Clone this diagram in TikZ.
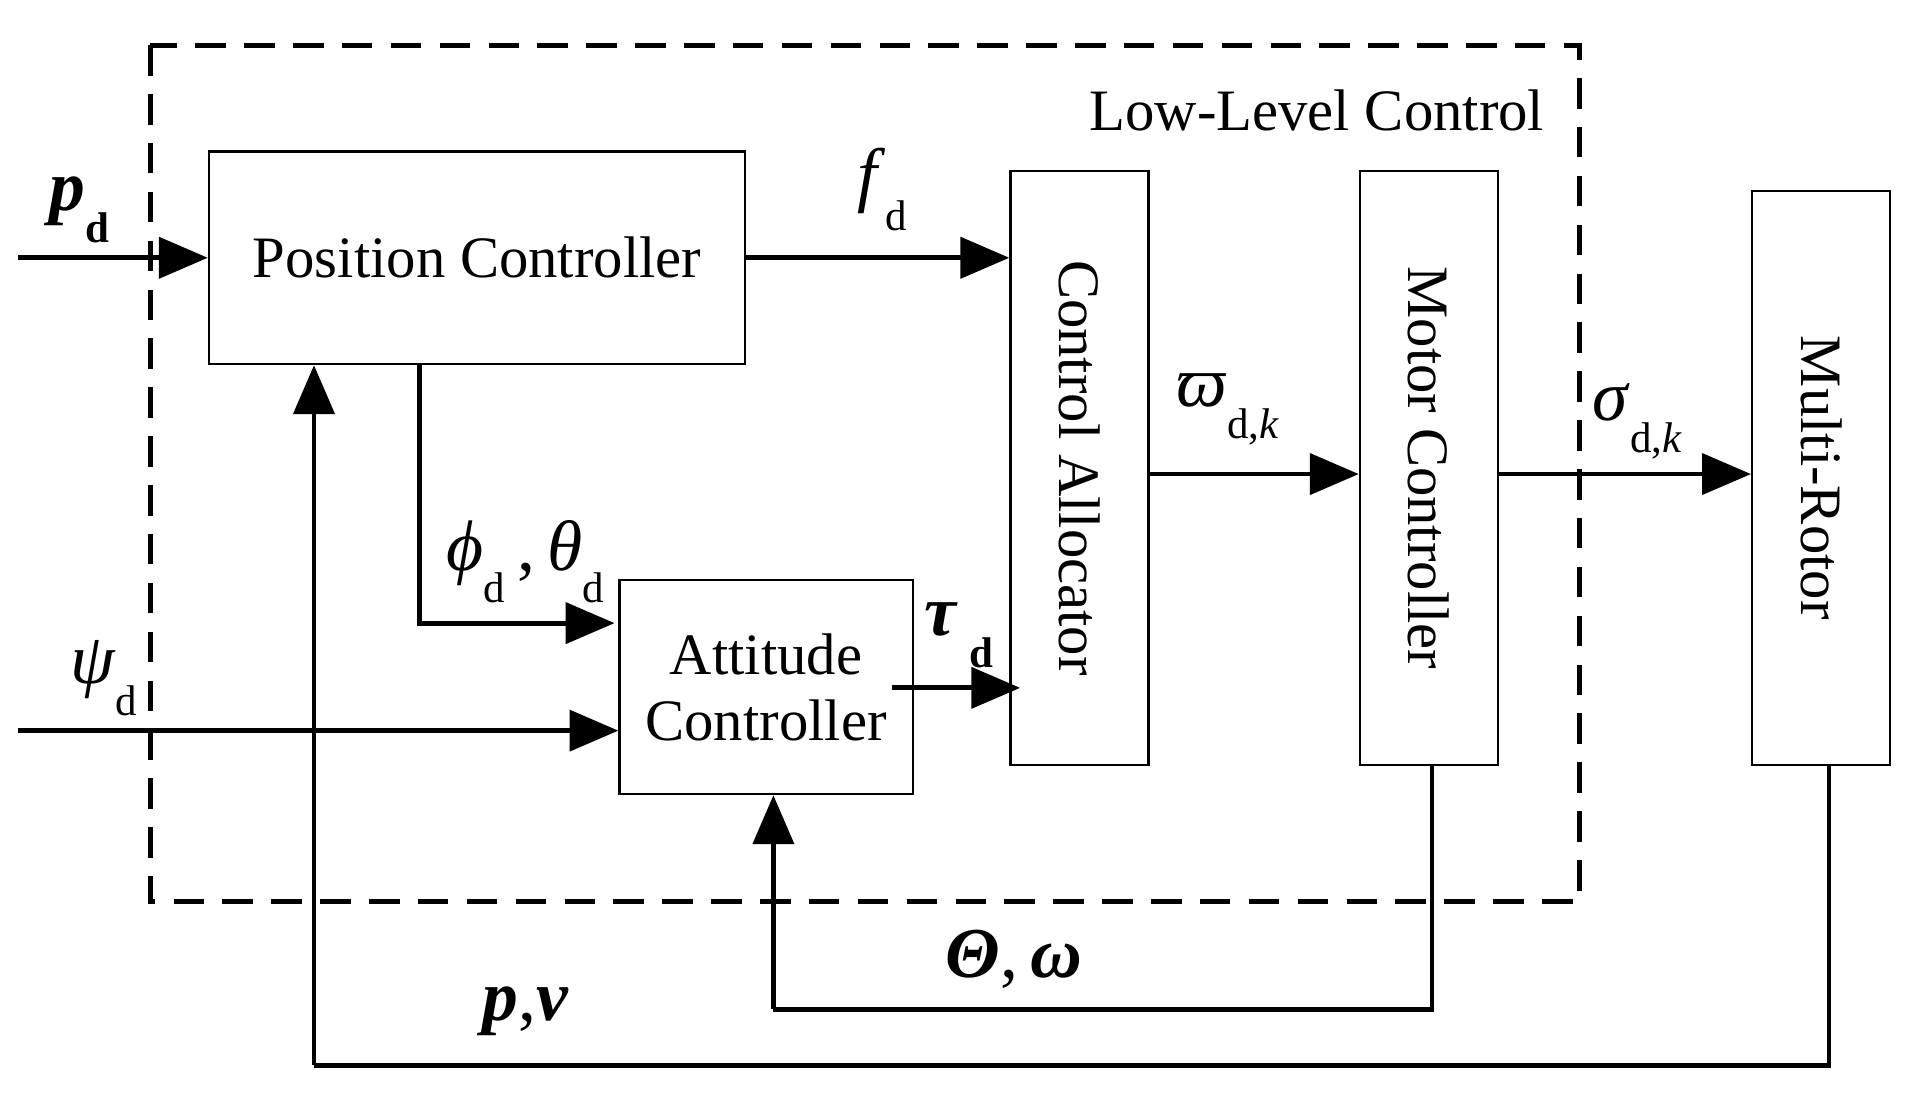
\documentclass[tikz,border=0pt]{standalone}
\usepackage{fontspec}
\setmainfont{Liberation Serif}
\usetikzlibrary{arrows.meta}
\newcommand\lsub[1]{\raisebox{-0.45em}{\fontsize{30}{32}\selectfont #1}}
\newcommand\bi[1]{\textbf{\textit{#1}}}
\begin{document}
\begin{tikzpicture}[x=0.03cm,y=-0.03cm,
  blk/.style={draw,line width=1.5pt,inner sep=0},
  txt/.style={font=\fontsize{41}{46}\selectfont,align=center},
  lab/.style={font=\fontsize{50}{54}\selectfont},
  sig/.style={line width=3.4pt,-{Triangle[length=1.2cm,width=1cm]}},
  ln/.style={line width=3.4pt}]
\useasboundingbox (0,0) rectangle (1560,895.5);
\draw[line width=3.4pt,dash pattern=on 0.75cm off 0.45cm] (123,37) rectangle (1293,738);
\node[txt,anchor=east] (llc) at (1268,90) {Low-Level Control};
\node[blk,minimum width=13.17cm,minimum height=5.22cm] (pc) at (390.5,211) {};
\node[txt] at (pc) {Position Controller};
\node[blk,minimum width=3.39cm,minimum height=14.58cm] (ca) at (883.5,383) {};
\node[txt,rotate=-90] at (ca) {Control Allocator};
\node[blk,minimum width=3.39cm,minimum height=14.58cm] (mc) at (1169.5,383) {};
\node[txt,rotate=-90] at (mc) {Motor Controller};
\node[blk,minimum width=3.39cm,minimum height=14.1cm] (mr) at (1490.5,391) {};
\node[txt,rotate=-90] at (mr) {Multi-Rotor};
\node[blk,minimum width=7.2cm,minimum height=5.25cm] (ac) at (627,562.5) {};
\node[txt] at (ac) {Attitude\\Controller};
\coordinate (pin) at (15,211);
\coordinate (psin) at (15,598);
\draw[sig] (pin) -- (pc.west);
\draw[sig] (pc.east) -- (ca.west |- pc.east);
\draw[sig] (343,298) |- (503,510);
\draw[sig] (psin) -- (ac.west |- psin);
\draw[sig] (730,563) -- (835,563);
\draw[sig] (ca.east |- 0,388) -- (mc.west |- 0,388);
\draw[sig] (mc.east |- 0,388) -- (mr.west |- 0,388);
\draw[ln] (1172,626) -- (1172,826) -- (633,826);
\draw[sig] (633,826) -- (ac.south -| 633,0);
\draw[ln] (1497,626) -- (1497,872) -- (257,872);
\draw[sig] (257,872) -- (pc.south -| 257,0);
\node[lab] (l1) at (65,172) {\bi{p}\lsub{\textbf{d}}};
\node[lab] (l2) at (722,155) {\textit{f}\lsub{d}};
\node[lab] (l3) at (430,460) {\textit{ϕ}\lsub{d}\,,\,\textit{θ}\lsub{d}};
\node[lab] (l4) at (85,555) {\textit{ψ}\lsub{d}};
\node[lab] (l5) at (785,520) {\bi{τ}\,\lsub{\textbf{d}}};
\node[lab] (l6) at (1005,335) {\textit{ϖ}\lsub{d,\textit{k}}};
\node[lab] (l7) at (1340,345) {\textit{σ}\lsub{d,\textit{k}}};
\node[lab] (l8) at (830,785) {\bi{Θ},\,\bi{ω}};
\node[lab] (l9) at (430,828) {\bi{p},\bi{v}};
\end{tikzpicture}
\end{document}
